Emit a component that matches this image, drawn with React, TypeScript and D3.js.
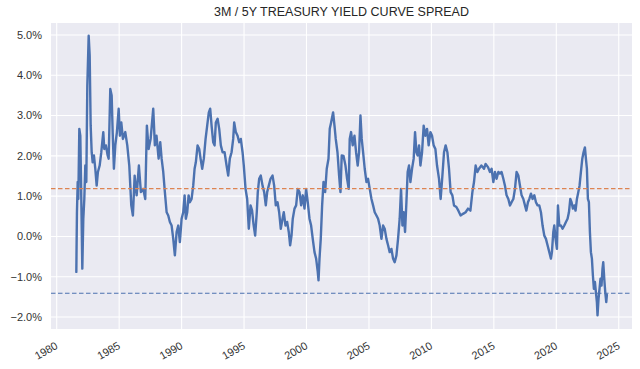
import * as d3 from 'd3'
import React from 'react'

const obsYear = [
  1981.57, 1981.62, 1981.68, 1981.73, 1981.81, 1981.89, 1981.94, 1982.0, 1982.05, 1982.13,
  1982.21, 1982.29, 1982.37, 1982.45, 1982.56, 1982.64, 1982.72, 1982.8, 1982.88, 1982.98,
  1983.09, 1983.2, 1983.3, 1983.44, 1983.57, 1983.73, 1983.81, 1983.94, 1984.08, 1984.16,
  1984.29, 1984.4, 1984.48, 1984.58, 1984.69, 1984.82, 1984.96, 1985.06, 1985.17, 1985.3,
  1985.49, 1985.65, 1985.81, 1985.97, 1986.1, 1986.24, 1986.4, 1986.58, 1986.74, 1986.93,
  1987.09, 1987.22, 1987.36, 1987.52, 1987.73, 1987.86, 1987.99, 1988.16, 1988.29, 1988.4,
  1988.53, 1988.66, 1988.8, 1988.93, 1989.06, 1989.2, 1989.33, 1989.46, 1989.6, 1989.73,
  1989.86, 1990.0, 1990.13, 1990.24, 1990.34, 1990.45, 1990.56, 1990.66, 1990.8, 1990.93,
  1991.04, 1991.14, 1991.28, 1991.41, 1991.52, 1991.65, 1991.78, 1991.92, 1992.05, 1992.18,
  1992.29, 1992.4, 1992.53, 1992.64, 1992.74, 1992.88, 1993.01, 1993.14, 1993.28, 1993.44,
  1993.6, 1993.73, 1993.86, 1994.0, 1994.13, 1994.21, 1994.34, 1994.48, 1994.61, 1994.74,
  1994.88, 1994.98, 1995.12, 1995.25, 1995.38, 1995.52, 1995.64, 1995.76, 1995.89, 1996.02,
  1996.1, 1996.21, 1996.34, 1996.48, 1996.61, 1996.74, 1996.85, 1996.98, 1997.12, 1997.28,
  1997.41, 1997.54, 1997.68, 1997.81, 1997.94, 1998.08, 1998.18, 1998.32, 1998.45, 1998.58,
  1998.69, 1998.8, 1998.9, 1999.04, 1999.17, 1999.3, 1999.44, 1999.57, 1999.7, 1999.84,
  1999.97, 2000.1, 2000.24, 2000.37, 2000.5, 2000.64, 2000.77, 2000.9, 2000.96, 2001.04,
  2001.14, 2001.25, 2001.36, 2001.49, 2001.62, 2001.76, 2001.86, 2001.97, 2002.13, 2002.24,
  2002.34, 2002.48, 2002.61, 2002.72, 2002.82, 2002.96, 2003.12, 2003.25, 2003.38, 2003.46,
  2003.57, 2003.7, 2003.84, 2003.97, 2004.1, 2004.21, 2004.32, 2004.42, 2004.53, 2004.66,
  2004.8, 2004.93, 2005.06, 2005.2, 2005.33, 2005.46, 2005.6, 2005.73, 2005.86, 2006.0,
  2006.13, 2006.26, 2006.4, 2006.53, 2006.66, 2006.8, 2006.93, 2007.06, 2007.2, 2007.33,
  2007.46, 2007.57, 2007.68, 2007.78, 2007.89, 2008.0, 2008.1, 2008.21, 2008.32, 2008.45,
  2008.58, 2008.69, 2008.8, 2008.9, 2009.01, 2009.12, 2009.25, 2009.38, 2009.52, 2009.65,
  2009.78, 2009.92, 2010.05, 2010.18, 2010.32, 2010.45, 2010.61, 2010.74, 2010.88, 2011.01,
  2011.14, 2011.28, 2011.41, 2011.54, 2011.68, 2011.81, 2012.0, 2012.16, 2012.34, 2012.53,
  2012.74, 2012.93, 2013.12, 2013.28, 2013.41, 2013.54, 2013.68, 2013.81, 2014.0, 2014.21,
  2014.34, 2014.53, 2014.69, 2014.82, 2014.96, 2015.09, 2015.22, 2015.36, 2015.49, 2015.62,
  2015.76, 2015.89, 2016.02, 2016.16, 2016.29, 2016.42, 2016.56, 2016.69, 2016.82, 2016.96,
  2017.09, 2017.22, 2017.36, 2017.49, 2017.6, 2017.73, 2017.84, 2017.97, 2018.1, 2018.24,
  2018.37, 2018.5, 2018.64, 2018.77, 2018.9, 2019.04, 2019.17, 2019.3, 2019.44, 2019.57,
  2019.65, 2019.76, 2019.84, 2019.94, 2020.05, 2020.13, 2020.24, 2020.37, 2020.5, 2020.64,
  2020.77, 2020.9, 2021.01, 2021.12, 2021.22, 2021.33, 2021.44, 2021.54, 2021.65, 2021.76,
  2021.86, 2021.97, 2022.08, 2022.18, 2022.29, 2022.37, 2022.45, 2022.53, 2022.61, 2022.69,
  2022.77, 2022.85, 2022.93, 2023.01, 2023.09, 2023.17, 2023.25, 2023.3, 2023.38, 2023.46,
  2023.54, 2023.62, 2023.7, 2023.76, 2023.84, 2023.92, 2024.0, 2024.05,
]

const obsSpread = [
  -0.88, 0.6, 1.35, 0.93, 2.67, 2.5, 1.51, 0.27, -0.8, 0.44,
  0.93, 1.76, 1.35, 3.74, 4.98, 4.49, 2.75, 2.09, 1.84, 2.01,
  1.68, 1.26, 1.6, 1.76, 2.09, 2.59, 2.17, 2.26, 2.01, 1.93,
  3.66, 3.5, 2.59, 1.68, 2.26, 2.59, 3.17, 2.5, 2.83, 2.42,
  2.59, 2.26, 1.76, 0.77, 0.52, 1.51, 1.02, 1.76, 1.1, 1.18,
  0.93, 2.75, 2.17, 2.42, 3.17, 2.26, 2.5, 1.93, 2.34, 1.93,
  1.6, 1.1, 0.6, 0.52, 0.36, 0.27, -0.06, -0.47, 0.11, 0.27,
  -0.14, 0.44, 0.6, 1.02, 0.44, 0.6, 1.02, 0.85, 0.93, 1.26,
  1.68, 1.84, 2.26, 2.17, 1.93, 1.68, 1.93, 2.42, 2.75, 3.08,
  3.17, 2.75, 2.34, 2.26, 2.83, 2.92, 2.67, 2.26, 2.09, 2.09,
  1.76, 1.51, 1.93, 2.09, 2.42, 2.83, 2.59, 2.5, 2.34, 2.42,
  2.09, 1.76, 1.18, 0.93, 0.19, 0.77, 0.65, 0.3, 0.02, 0.6,
  1.1, 1.43, 1.51, 1.26, 1.1, 0.77, 1.1, 1.26, 1.43, 1.51,
  1.26, 0.77, 0.85, 0.6, 0.19, 0.44, 0.6, 0.27, 0.36, 0.11,
  -0.22, 0.02, 0.44, 0.69, 0.77, 1.18, 1.1, 0.77, 1.02, 0.69,
  1.18, 0.85, 0.44, 0.27, -0.06, -0.39, -0.55, -0.88, -1.09, -0.55,
  -0.06, 0.77, 1.35, 1.1, 1.68, 1.93, 2.67, 2.83, 3.08, 2.75,
  2.42, 2.09, 1.51, 1.1, 2.01, 2.0, 1.76, 1.43, 1.18, 2.42,
  2.59, 2.26, 2.5, 2.09, 1.76, 2.09, 3.0, 2.42, 2.09, 1.68,
  1.35, 1.43, 1.18, 0.93, 0.77, 0.6, 0.52, 0.44, 0.27, -0.06,
  0.27, 0.19, -0.06, -0.22, -0.39, -0.31, -0.55, -0.64, -0.47, -0.06,
  0.44, 1.18, 0.27, 0.6, 0.11, 0.85, 1.6, 1.76, 1.35, 1.68,
  1.93, 2.59, 2.09, 2.01, 2.26, 1.76, 2.09, 2.75, 2.5, 2.67,
  2.26, 2.59, 2.5, 2.26, 2.17, 1.76, 1.43, 0.93, 1.51, 2.09,
  2.26, 2.09, 1.68, 1.1, 1.02, 0.77, 0.73, 0.64, 0.52, 0.56,
  0.6, 0.69, 0.64, 1.1, 1.35, 1.76, 1.6, 1.68, 1.76, 1.68,
  1.8, 1.72, 1.6, 1.68, 1.35, 1.6, 1.43, 1.6, 1.56, 1.6,
  1.43, 1.26, 1.02, 0.93, 0.77, 0.85, 0.93, 1.18, 1.6, 1.51,
  1.26, 1.02, 0.93, 0.77, 0.64, 0.85, 0.93, 1.06, 0.93, 1.02,
  0.85, 0.77, 0.77, 0.6, 0.27, 0.02, -0.06, -0.22, -0.39, -0.55,
  -0.39, 0.11, 0.27, -0.06, -0.31, 0.77, 0.27, 0.27, 0.19, 0.27,
  0.36, 0.44, 0.6, 0.93, 0.85, 0.69, 0.77, 0.64, 0.93, 1.1,
  1.26, 1.6, 1.93, 2.09, 2.21, 1.93, 1.68, 0.93, 0.85, 0.11,
  -0.39, -0.55, -0.97, -1.3, -1.13, -1.38, -1.63, -1.96, -1.55, -1.3,
  -1.05, -1.22, -0.8, -0.64, -1.05, -1.38, -1.63, -1.45,
]

const yTicks = [-2, -1, 0, 1, 2, 3, 4, 5]
const xTickYears = [1980, 1985, 1990, 1995, 2000, 2005, 2010, 2015, 2020, 2025]
const avgSpread = 1.186
const lowSpread = -1.41
const chartTitle = '3M / 5Y TREASURY YIELD CURVE SPREAD'

const W = 640, H = 369
const plot = { left: 51, right: 632, top: 23, bottom: 329 }
const font = '"Liberation Sans", Arial, Helvetica, sans-serif'

const toDate = (y: number) => {
  const yr = Math.floor(y)
  const a = new Date(yr, 0, 1).getTime(), b = new Date(yr + 1, 0, 1).getTime()
  return new Date(a + (y - yr) * (b - a))
}

export default function App() {
  const x = d3.scaleTime().domain([toDate(1979.544), toDate(2026.06)]).range([plot.left, plot.right])
  const y = d3.scaleLinear().domain([-2.298, 5.298]).range([plot.bottom, plot.top])
  const pts = obsYear.map((yr, i) => [toDate(yr), obsSpread[i]] as [Date, number])
  const ln = d3.line<[Date, number]>().x(d => x(d[0])).y(d => y(d[1]))
  const fmt = (v: number) => (v < 0 ? '\u2212' : '') + Math.abs(v).toFixed(1) + '%'

  return (
    <svg width={W} height={H} style={{ position: 'absolute', left: 0, top: 0, background: '#fff' }} fontFamily={font}>
      <rect x={plot.left} y={plot.top} width={plot.right - plot.left} height={plot.bottom - plot.top} fill='#EAEAF2' />
      {yTicks.map(t => (
        <line key={'gy' + t} x1={plot.left} x2={plot.right} y1={y(t)} y2={y(t)} stroke='#fff' strokeWidth={1.1} />
      ))}
      {xTickYears.map(t => (
        <line key={'gx' + t} x1={x(new Date(t, 0, 1))} x2={x(new Date(t, 0, 1))} y1={plot.top} y2={plot.bottom} stroke='#fff' strokeWidth={1.1} />
      ))}
      <path d={ln(pts) as string} fill='none' stroke='#4C72B0' strokeWidth={2.4} strokeLinejoin='round' strokeLinecap='round' />
      <line x1={plot.left} x2={plot.right} y1={y(avgSpread)} y2={y(avgSpread)} stroke='#DD8452' strokeWidth={1.2} strokeDasharray='4.5,2.5' />
      <line x1={plot.left} x2={plot.right} y1={y(lowSpread)} y2={y(lowSpread)} stroke='#4C72B0' strokeWidth={1.1} strokeDasharray='4.5,2.5' />
      {yTicks.map(t => (
        <text key={'ly' + t} x={42} y={y(t)} dy='0.35em' textAnchor='end' fontSize={11} fill='#333'>{fmt(t)}</text>
      ))}
      {xTickYears.map(t => (
        <text key={'lx' + t} transform={`translate(${x(new Date(t, 0, 1)) - 2},${plot.bottom + 12}) rotate(-30)`}
          dy='0.72em' textAnchor='end' fontSize={11} fill='#333'>{t}</text>
      ))}
      <text x={(plot.left + plot.right) / 2} y={16} textAnchor='middle' fontSize={12.5} fill='#262626'>{chartTitle}</text>
    </svg>
  )
}
